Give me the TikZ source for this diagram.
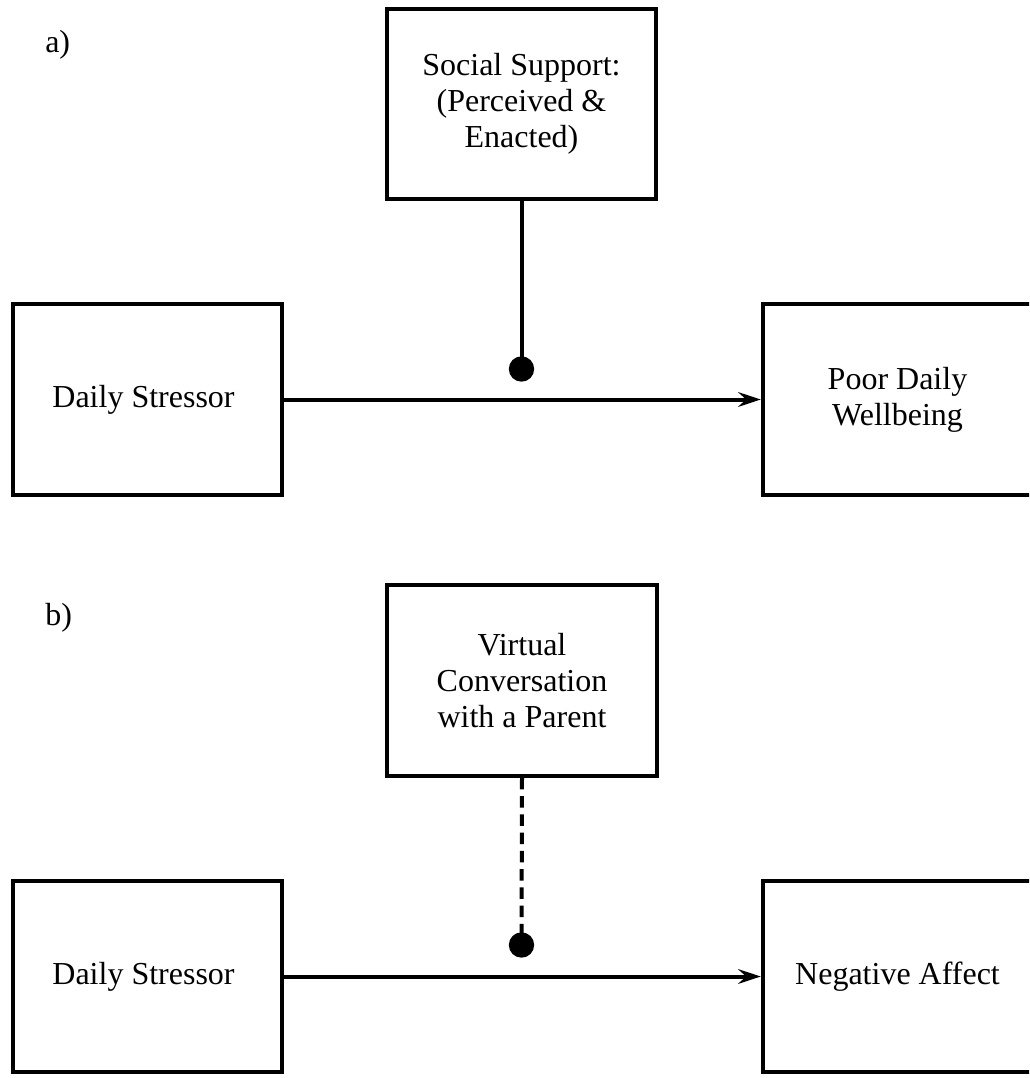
\documentclass[tikz,border=0pt]{standalone}
\usepackage{fontspec}
\setmainfont{Liberation Serif}
\usetikzlibrary{arrows.meta}
\begin{document}
\begin{tikzpicture}[x=0.75pt,y=-0.75pt,
  box/.style={draw=black,line width=3pt,rectangle,minimum width=202pt,minimum height=143pt,
    align=center,inner sep=0pt,font=\fontsize{24pt}{27pt}\selectfont},
  dotnode/.style={circle,fill=black,minimum size=19pt,inner sep=0pt},
  conn/.style={line width=3pt},
  arr/.style={line width=3pt,-{Stealth[length=17pt,width=11pt,inset=6pt]}},
  lab/.style={anchor=base west,inner sep=0pt,font=\fontsize{24pt}{27pt}\selectfont}]
\useasboundingbox (0,0) rectangle (1029,1078);
\clip (0,0) rectangle (1029,1078);
\fill[white] (0,0) rectangle (1029,1078);
% panel a
\node[lab] (la) at (45,52) {a)};
\node[box] (soc) at (521.5,104) {Social Support:\\(Perceived \&\\Enacted)};
\node[box] (stra) at (147.5,399.5) {Daily Stressor\hspace*{6pt}};
\node[box] (poor) at (897.5,399.5) {Poor Daily\\Wellbeing};
\node[dotnode] (dota) at (521.5,369) {};
\draw[conn] (soc.south) -- (dota.center);
\draw[arr] (stra.east) -- (poor.west);
% panel b
\node[lab] (lb) at (45,625) {b)};
\node[box] (virt) at (522,680.5) {Virtual\\Conversation\\with a Parent};
\node[box] (strb) at (147.5,976.5) {Daily Stressor\hspace*{6pt}};
\node[box] (neg) at (897.5,976.5) {Negative Affect};
\node[dotnode] (dotb) at (521.5,945) {};
\draw[conn,dash pattern=on 8.6pt off 5.1pt] (virt.south) -- (dotb.center);
\draw[arr] (strb.east) -- (neg.west);
\end{tikzpicture}
\end{document}
